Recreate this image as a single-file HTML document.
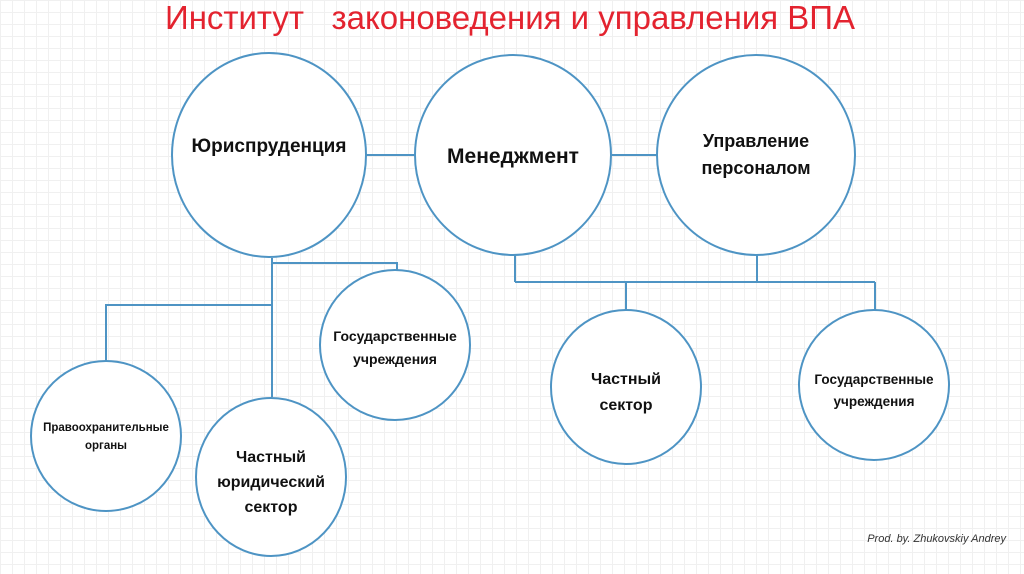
<!DOCTYPE html>
<html><head><meta charset="utf-8"><style>
html,body{margin:0;padding:0;}
body{width:1024px;height:574px;overflow:hidden;background-color:#fff;
background-image:linear-gradient(#f0f0f0 1px,transparent 1px),linear-gradient(90deg,#f0f0f0 1px,transparent 1px);background-size:12px 12px;}
svg{position:absolute;left:0;top:0}
text{font-family:"Liberation Sans","DejaVu Sans",sans-serif;}
</style></head><body>
<svg width="1024" height="574" viewBox="0 0 1024 574">
<g stroke="#4e94c4" stroke-width="2" fill="none">
<line x1="366" y1="155" x2="415" y2="155"/>
<line x1="612" y1="155" x2="657" y2="155"/>
<polyline points="272,258 272,397"/>
<polyline points="272,263 397,263 397,270"/>
<polyline points="272,305 106,305 106,361"/>
<polyline points="515,255 515,282"/>
<polyline points="757,255 757,282"/>
<polyline points="515,282 875,282"/>
<polyline points="626,282 626,311"/>
<polyline points="875,282 875,310"/>
</g>
<g stroke="#4e94c4" stroke-width="2" fill="#fff">
<ellipse cx="269" cy="155" rx="97" ry="102"/>
<ellipse cx="513" cy="155" rx="98" ry="100"/>
<ellipse cx="756" cy="155" rx="99" ry="100"/>
<circle cx="395" cy="345" r="75"/>
<circle cx="106" cy="436" r="75"/>
<ellipse cx="271" cy="477" rx="75" ry="79"/>
<ellipse cx="626" cy="387" rx="75" ry="77"/>
<circle cx="874" cy="385" r="75"/>
</g>
<text x="510" y="29" text-anchor="middle" font-size="33" fill="#e3232f" xml:space="preserve" textLength="690" lengthAdjust="spacingAndGlyphs">Институт   законоведения и управления ВПА</text>
<g fill="#111" font-weight="bold" text-anchor="middle">
<text x="269" y="152" font-size="19">Юриспруденция</text>
<text x="513" y="163" font-size="21">Менеджмент</text>
<text x="756" y="147" font-size="18">Управление</text>
<text x="756" y="174" font-size="18">персоналом</text>
<text x="395" y="341" font-size="14">Государственные</text>
<text x="395" y="364" font-size="14">учреждения</text>
<text x="106" y="431" font-size="11.5">Правоохранительные</text>
<text x="106" y="449" font-size="11.5">органы</text>
<text x="271" y="462" font-size="16">Частный</text>
<text x="271" y="487" font-size="16">юридический</text>
<text x="271" y="512" font-size="16">сектор</text>
<text x="626" y="384" font-size="16">Частный</text>
<text x="626" y="410" font-size="16">сектор</text>
<text x="874" y="384" font-size="13.5">Государственные</text>
<text x="874" y="406" font-size="13.5">учреждения</text>
</g>
<text x="1006" y="542" text-anchor="end" font-size="11" font-style="italic" fill="#333">Prod. by. Zhukovskiy Andrey</text>
</svg>
</body></html>
